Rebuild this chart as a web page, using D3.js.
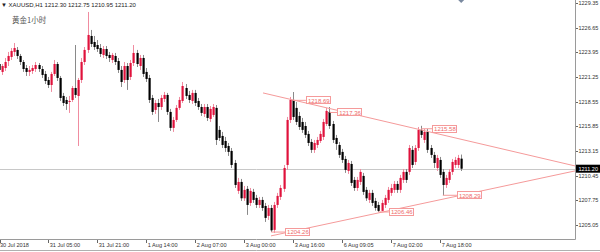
<!DOCTYPE html>
<html>
<head>
<meta charset="utf-8">
<script src="https://cdn.jsdelivr.net/npm/d3@7"></script>
<style>
  body { margin: 0; background: #fff; }
  svg { display: block; }
</style>
</head>
<body>
<div id="chart"></div>
<script>
// XAUUSD H1 candles (bar 0 = first visible bar)
var opens = [1222.67, 1221.80, 1222.23, 1223.00, 1223.44, 1223.99, 1224.21, 1223.55, 1222.89, 1222.23,
  1221.80, 1221.91, 1222.12, 1222.56, 1222.12, 1221.58, 1220.92, 1220.37, 1221.58, 1222.67,
  1221.14, 1219.17, 1218.73, 1218.51, 1218.73, 1220.04, 1219.17, 1220.92, 1222.89, 1224.21,
  1225.74, 1225.08, 1224.75, 1224.42, 1223.66, 1224.31, 1223.66, 1223.11, 1223.55, 1223.00,
  1222.02, 1220.92, 1222.45, 1221.25, 1222.78, 1223.88, 1222.45, 1223.33, 1221.80, 1221.14,
  1218.95, 1217.64, 1218.40, 1217.96, 1218.84, 1219.28, 1217.42, 1215.67, 1216.54, 1217.86,
  1218.62, 1220.04, 1219.28, 1218.62, 1219.50, 1218.62, 1217.96, 1217.20, 1217.96, 1216.65,
  1217.09, 1217.86, 1215.45, 1214.79, 1214.24, 1213.69, 1213.15, 1211.83, 1208.77, 1209.75,
  1207.96, 1208.99, 1207.45, 1208.66, 1208.00, 1207.23, 1207.78, 1207.12, 1206.03, 1206.90,
  1204.50, 1207.23, 1208.11, 1208.99, 1211.61, 1216.54, 1218.73, 1217.86, 1216.98, 1216.32,
  1215.88, 1215.01, 1214.13, 1213.26, 1213.80, 1214.24, 1214.68, 1216.10, 1217.42, 1216.10,
  1214.57, 1213.80, 1213.04, 1212.27, 1210.96, 1211.72, 1209.97, 1209.09, 1209.75, 1210.41,
  1208.88, 1207.78, 1208.55, 1207.67, 1207.23, 1206.58, 1207.23, 1207.78, 1208.55, 1208.88,
  1209.53, 1208.88, 1209.97, 1210.85, 1210.85, 1213.26, 1211.94, 1213.47, 1215.45, 1214.35,
  1215.23, 1213.47, 1212.71, 1211.28, 1212.16, 1210.85, 1209.42, 1209.97, 1210.85, 1211.61,
  1211.61, 1212.30]
var highs = [1223.11, 1222.67, 1223.33, 1223.99, 1224.42, 1224.97, 1224.53, 1223.77, 1223.11, 1222.56,
  1222.45, 1222.56, 1222.89, 1222.78, 1222.45, 1221.91, 1221.25, 1221.80, 1223.11, 1222.89,
  1221.36, 1219.50, 1219.06, 1219.17, 1220.26, 1224.75, 1221.14, 1223.33, 1224.53, 1228.37,
  1226.40, 1225.74, 1225.30, 1224.86, 1224.64, 1224.64, 1223.99, 1223.88, 1223.88, 1223.33,
  1222.45, 1222.89, 1222.78, 1223.11, 1224.75, 1224.21, 1223.66, 1223.66, 1222.23, 1221.47,
  1219.28, 1218.73, 1218.84, 1219.28, 1219.61, 1219.50, 1217.75, 1216.87, 1218.18, 1219.06,
  1220.70, 1220.48, 1219.72, 1219.83, 1219.83, 1218.95, 1218.29, 1218.29, 1218.29, 1218.07,
  1218.29, 1218.18, 1215.88, 1215.23, 1214.68, 1214.02, 1213.47, 1212.16, 1210.19, 1210.08,
  1209.31, 1209.31, 1209.09, 1208.99, 1208.33, 1208.11, 1208.11, 1207.45, 1207.23, 1207.23,
  1207.56, 1208.55, 1209.42, 1211.61, 1216.87, 1219.06, 1219.60, 1218.51, 1217.42, 1216.76,
  1216.32, 1215.34, 1214.46, 1214.35, 1214.68, 1215.34, 1216.65, 1217.86, 1217.96, 1216.43,
  1214.90, 1214.13, 1213.37, 1212.60, 1212.16, 1212.05, 1210.30, 1210.30, 1211.17, 1210.74,
  1209.20, 1208.88, 1208.88, 1208.00, 1207.56, 1207.78, 1208.33, 1209.20, 1209.53, 1209.86,
  1209.86, 1210.52, 1211.17, 1211.17, 1213.80, 1213.69, 1213.80, 1215.77, 1215.90, 1215.56,
  1215.56, 1213.80, 1213.04, 1212.71, 1212.49, 1211.17, 1210.52, 1211.17, 1212.27, 1212.49,
  1212.71, 1212.75]
var lows = [1221.58, 1221.47, 1221.91, 1222.45, 1223.11, 1223.55, 1223.22, 1222.56, 1221.80, 1221.36,
  1221.36, 1221.58, 1221.80, 1221.80, 1221.14, 1220.48, 1220.04, 1219.61, 1221.36, 1220.81,
  1218.62, 1218.07, 1217.64, 1217.31, 1218.51, 1218.95, 1213.69, 1220.59, 1222.56, 1223.88,
  1224.53, 1224.21, 1223.99, 1223.44, 1223.33, 1223.22, 1222.89, 1222.78, 1222.56, 1221.69,
  1220.15, 1220.59, 1219.83, 1220.92, 1222.45, 1222.34, 1222.02, 1221.25, 1220.70, 1218.40,
  1217.09, 1217.20, 1216.32, 1217.64, 1218.51, 1217.09, 1215.34, 1215.23, 1216.32, 1217.64,
  1218.40, 1218.84, 1218.40, 1218.29, 1218.07, 1217.64, 1216.98, 1216.87, 1216.43, 1216.32,
  1216.87, 1213.80, 1214.24, 1213.47, 1213.04, 1212.60, 1211.28, 1209.09, 1208.44, 1207.67,
  1207.67, 1206.14, 1207.12, 1207.45, 1206.90, 1206.90, 1206.58, 1205.37, 1205.59, 1204.26,
  1204.17, 1206.90, 1207.78, 1208.66, 1211.07, 1216.21, 1216.54, 1215.99, 1215.45, 1215.12,
  1214.57, 1213.69, 1212.93, 1212.93, 1213.47, 1214.02, 1214.35, 1215.88, 1215.56, 1214.02,
  1213.26, 1212.38, 1211.83, 1210.74, 1210.63, 1209.31, 1208.77, 1208.77, 1209.42, 1208.33,
  1207.67, 1207.45, 1207.12, 1206.60, 1206.46, 1206.55, 1206.90, 1207.45, 1208.22, 1208.55,
  1208.55, 1208.55, 1209.64, 1209.64, 1210.52, 1211.28, 1211.61, 1213.15, 1214.57, 1214.02,
  1212.93, 1212.38, 1211.28, 1210.96, 1210.19, 1208.29, 1209.09, 1209.64, 1210.52, 1211.28,
  1211.28, 1210.95]
var closes = [1222.02, 1222.45, 1222.89, 1223.55, 1224.10, 1224.42, 1223.55, 1222.89, 1222.12, 1221.80,
  1222.02, 1222.23, 1222.56, 1222.12, 1221.47, 1220.81, 1220.37, 1221.58, 1222.67, 1221.14,
  1218.95, 1218.40, 1218.29, 1218.62, 1220.04, 1219.28, 1220.92, 1222.89, 1224.21, 1225.85,
  1224.86, 1224.53, 1224.31, 1223.77, 1224.31, 1223.55, 1223.33, 1223.66, 1222.89, 1222.02,
  1220.70, 1222.45, 1220.92, 1222.78, 1223.88, 1222.67, 1223.33, 1221.58, 1221.03, 1218.73,
  1217.42, 1218.40, 1217.96, 1218.95, 1219.28, 1217.42, 1215.67, 1216.54, 1217.86, 1218.73,
  1220.26, 1219.17, 1218.73, 1219.50, 1218.40, 1217.96, 1217.31, 1217.96, 1216.76, 1217.75,
  1217.96, 1214.35, 1214.57, 1213.80, 1213.47, 1213.04, 1211.61, 1209.42, 1209.75, 1207.96,
  1208.88, 1207.23, 1208.77, 1207.78, 1207.23, 1207.78, 1206.90, 1205.81, 1206.90, 1204.45,
  1207.23, 1208.22, 1209.09, 1211.28, 1216.54, 1218.73, 1216.87, 1216.32, 1215.77, 1215.45,
  1214.90, 1214.02, 1213.26, 1214.02, 1214.35, 1215.01, 1216.32, 1217.53, 1215.88, 1214.35,
  1213.91, 1212.71, 1212.16, 1211.07, 1211.83, 1209.64, 1209.09, 1209.97, 1210.85, 1208.66,
  1207.96, 1208.55, 1207.45, 1206.90, 1206.58, 1207.45, 1208.00, 1208.88, 1209.09, 1209.53,
  1208.88, 1210.19, 1210.85, 1209.97, 1213.47, 1211.61, 1213.47, 1215.45, 1214.90, 1215.23,
  1213.26, 1212.71, 1211.83, 1212.38, 1210.52, 1209.42, 1210.19, 1210.85, 1211.94, 1212.16,
  1212.38, 1211.20]

var yTicks = [1229.35, 1226.65, 1223.95, 1221.25, 1218.55, 1215.85, 1213.15, 1210.45, 1207.75, 1205.05]
var xTickIdx = [0, 16, 32, 48, 64, 80, 96, 112, 128, 144]
var xTickLabels = ['30 Jul 2018', '31 Jul 05:00', '31 Jul 21:00', '1 Aug 14:00', '2 Aug 07:00',
  '3 Aug 00:00', '3 Aug 16:00', '6 Aug 09:05', '7 Aug 02:00', '7 Aug 18:00']
var lastPrice = 1211.20
var header = 'XAUUSD,H1  1212.30 1212.75 1210.95 1211.20'
var title = '黄金1小时'

// triangle trend lines: [bar index, price] end points
var upperLine = [[86.3, 1219.50], [188.2, 1211.50]]
var lowerLine = [[88.9, 1203.84], [188.2, 1210.96]]

// price labels on the swing points
var labelValues = [1218.69, 1217.36, 1215.58, 1204.26, 1206.46, 1208.29]
var labelAnchorIdx = [96, 108, 138, 89, 124, 145]
var labelBoxIdx = [100.3, 110.5, 141.5, 93.5, 127.4, 149.6]

// ---- layout ----
var width = 600
var height = 252
var plotRight = 575
var plotBottom = 239

var svg = d3.select('#chart')
  .append('svg')
  .attr('width', width)
  .attr('height', height)

var x = d3.scaleLinear().domain([0, 188]).range([-1.3, 574.5])
var y = d3.scaleLinear().domain([1203.50, 1229.68]).range([plotBottom, 0])

svg.append('clipPath').attr('id', 'plotClip')
  .append('rect').attr('x', 0).attr('y', 0).attr('width', plotRight).attr('height', plotBottom)

var plot = svg.append('g').attr('clip-path', 'url(#plotClip)')

// bid line
plot.append('line')
  .attr('x1', 0).attr('x2', plotRight)
  .attr('y1', Math.round(y(lastPrice)) + 0.5).attr('y2', Math.round(y(lastPrice)) + 0.5)
  .attr('stroke', '#c8c8c8').attr('stroke-width', 1)

var candles = d3.range(opens.length).map(function (i) {
  return { i: i, o: opens[i], h: highs[i], l: lows[i], c: closes[i] }
})

// wicks
plot.selectAll('line.wick')
  .data(candles)
  .enter()
  .append('line')
  .attr('class', 'wick')
  .attr('x1', function (d) { return Math.round(x(d.i)) + 0.5 })
  .attr('x2', function (d) { return Math.round(x(d.i)) + 0.5 })
  .attr('y1', function (d) { return y(d.h) })
  .attr('y2', function (d) { return y(d.l) })
  .attr('stroke', function (d) { return d.c >= d.o ? '#f08ca0' : '#8a8a8a' })
  .attr('stroke-width', 1)

// bodies
plot.selectAll('rect.body')
  .data(candles)
  .enter()
  .append('rect')
  .attr('class', 'body')
  .attr('x', function (d) { return Math.round(x(d.i)) - 0.5 })
  .attr('width', 2.2)
  .attr('y', function (d) { return y(Math.max(d.o, d.c)) })
  .attr('height', function (d) { return Math.max(1, Math.abs(y(d.o) - y(d.c))) })
  .attr('fill', function (d) { return d.c >= d.o ? '#e0123c' : '#000' })

// trend lines
var tl = d3.line()
  .x(function (d) { return x(d[0]) })
  .y(function (d) { return y(d[1]) })
plot.append('path').attr('d', tl(upperLine)).attr('fill', 'none').attr('stroke', '#f59a9a').attr('stroke-width', 1)
plot.append('path').attr('d', tl(lowerLine)).attr('fill', 'none').attr('stroke', '#f59a9a').attr('stroke-width', 1)

// price labels
var labels = plot.selectAll('g.plabel')
  .data(labelValues)
  .enter()
  .append('g')
  .attr('class', 'plabel')
labels.append('line')
  .attr('x1', function (d, i) { return x(labelAnchorIdx[i]) })
  .attr('x2', function (d, i) { return x(labelBoxIdx[i]) })
  .attr('y1', function (d) { return y(d) })
  .attr('y2', function (d) { return y(d) })
  .attr('stroke', '#f59a9a')
labels.append('rect')
  .attr('x', function (d, i) { return Math.round(x(labelBoxIdx[i])) + 0.5 })
  .attr('y', function (d) { return Math.round(y(d)) - 3.5 })
  .attr('width', 24)
  .attr('height', 7)
  .attr('fill', '#fff')
  .attr('stroke', '#f59a9a')
labels.append('text')
  .attr('x', function (d, i) { return x(labelBoxIdx[i]) + 2 })
  .attr('y', function (d) { return y(d) + 2.3 })
  .attr('font-family', 'Liberation Sans, Arial, sans-serif')
  .attr('font-size', '6px')
  .attr('fill', '#ee6a6a')
  .text(function (d) { return d.toFixed(2) })

// right price axis
svg.append('line')
  .attr('x1', plotRight + 0.5).attr('x2', plotRight + 0.5)
  .attr('y1', 0).attr('y2', plotBottom + 0.5)
  .attr('stroke', '#9a9a9a')
var yAxis = svg.append('g')
yAxis.selectAll('line')
  .data(yTicks)
  .enter()
  .append('line')
  .attr('x1', plotRight + 1).attr('x2', plotRight + 3)
  .attr('y1', function (d) { return Math.round(y(d)) + 0.5 })
  .attr('y2', function (d) { return Math.round(y(d)) + 0.5 })
  .attr('stroke', '#666')
yAxis.selectAll('text')
  .data(yTicks)
  .enter()
  .append('text')
  .attr('x', plotRight + 3.5)
  .attr('y', function (d) { return y(d) + 2 })
  .attr('font-family', 'Liberation Sans, Arial, sans-serif')
  .attr('font-size', '5.5px')
  .attr('fill', '#333')
  .text(function (d) { return d.toFixed(2) })

// current price box
svg.append('rect')
  .attr('x', plotRight + 1).attr('y', y(lastPrice) - 4)
  .attr('width', width - plotRight - 1).attr('height', 8)
  .attr('fill', '#000')
svg.append('text')
  .attr('x', plotRight + 3.5).attr('y', y(lastPrice) + 2)
  .attr('font-family', 'Liberation Sans, Arial, sans-serif')
  .attr('font-size', '5.5px')
  .attr('fill', '#fff')
  .text(lastPrice.toFixed(2))

// bottom time axis
svg.append('line')
  .attr('x1', 0).attr('x2', plotRight + 0.5)
  .attr('y1', plotBottom + 0.5).attr('y2', plotBottom + 0.5)
  .attr('stroke', '#9a9a9a')
var xAxis = svg.append('g')
xAxis.selectAll('line')
  .data(xTickIdx)
  .enter()
  .append('line')
  .attr('x1', function (d) { return Math.max(0.5, Math.round(x(d)) + 0.5) })
  .attr('x2', function (d) { return Math.max(0.5, Math.round(x(d)) + 0.5) })
  .attr('y1', plotBottom + 1).attr('y2', plotBottom + 4)
  .attr('stroke', '#666')
xAxis.selectAll('text')
  .data(xTickLabels)
  .enter()
  .append('text')
  .attr('x', function (d, i) { return i === 0 ? 0 : x(xTickIdx[i]) + 2 })
  .attr('y', plotBottom + 8)
  .attr('font-family', 'Liberation Sans, Arial, sans-serif')
  .attr('font-size', '5.6px')
  .attr('fill', '#333')
  .text(function (d) { return d })

// tab strip line at the very bottom
svg.append('line')
  .attr('x1', 0).attr('x2', width)
  .attr('y1', 250.5).attr('y2', 250.5)
  .attr('stroke', '#b0b0b0')

// chart shift marker
svg.append('path')
  .attr('d', 'M' + (x(151) - 3) + ',0 L' + (x(151) + 3) + ',0 L' + x(151) + ',3 Z')
  .attr('fill', '#7a8aa0')

// header + title
svg.append('text')
  .attr('x', 1).attr('y', 7)
  .attr('font-family', 'Liberation Sans, Arial, sans-serif')
  .attr('font-size', '6px')
  .attr('fill', '#222')
  .text('▼ ' + header)
svg.append('text')
  .attr('x', 12).attr('y', 23)
  .attr('font-family', 'Noto Sans CJK SC, sans-serif')
  .attr('font-size', '7.5px')
  .attr('fill', '#555')
  .text(title)
</script>
</body>
</html>
